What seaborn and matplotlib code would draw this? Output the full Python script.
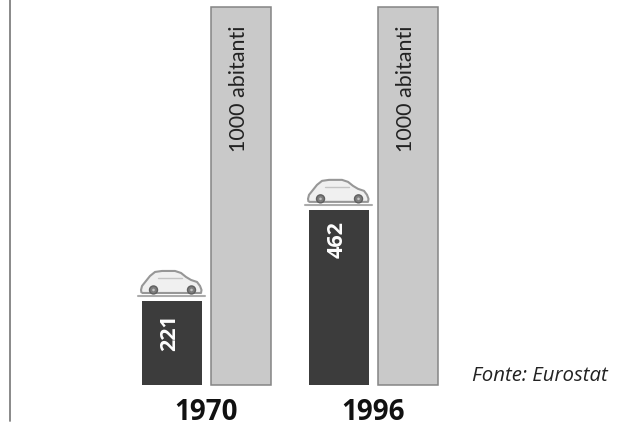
import numpy as np
import pandas as pd
import seaborn as sns
import matplotlib
matplotlib.use("Agg")
import matplotlib.pyplot as plt
from matplotlib.lines import Line2D
from matplotlib.patches import Circle, PathPatch
from matplotlib.path import Path
from matplotlib.transforms import IdentityTransform, ScaledTranslation

years = ["1970", "1996"]
series = ["auto", "abitanti"]
cars = [221, 462]
inhabitants = [1000, 1000]
bar_label_text = "1000 abitanti"
source = "Fonte: Eurostat"

df = pd.DataFrame({
    "anno": years * 2,
    "serie": [series[0]] * 2 + [series[1]] * 2,
    "valore": cars + inhabitants,
})

W, H = 619, 426
sns.set_theme(style="white")
plt.rcParams["font.family"] = ["Open Sans", "DejaVu Sans"]

fig = plt.figure(figsize=(W / 100, H / 100), dpi=100, facecolor="white")
ax = fig.add_axes([123 / W, (H - 384.5) / H, 334 / W, 378 / H])

sns.barplot(data=df, x="anno", y="valore", hue="serie", hue_order=series,
            palette={"auto": "#3c3c3c", "abitanti": "#c9c9c9"},
            width=0.826, gap=0.116, saturation=1, legend=False, ax=ax)
ax.set_xlim(-0.5, 1.5)
ax.set_ylim(0, 1000)
ax.set_xlabel("")
ax.set_ylabel("")
ax.set_yticks([])
sns.despine(ax=ax, left=True, bottom=True)
ax.patch.set_alpha(0)
ax.tick_params(axis="x", length=0, pad=10)
for t in ax.get_xticklabels():
    t.set_fontsize(20)
    t.set_fontweight("bold")
    t.set_color("#111111")

dark = ax.containers[0]
light = ax.containers[1]
for b in dark:
    b.set_linewidth(0)
for b in light:
    b.set_edgecolor("#858585")
    b.set_linewidth(1.1)
    b.set_clip_on(False)

# Car icon outline, in pixels relative to the top-centre of a dark bar
body = [(-30.5, 8), (-31, 11), (-30, 15), (-26, 20), (-22, 25), (-17, 29), (-10, 30),
        (3, 30), (9, 28), (14, 24), (19, 21), (25, 19), (28, 15), (29.5, 11),
        (29, 8), (-30.5, 8)]
wheels = [-18.5, 19.5]
label_dx = {221: -2.5, 462: -1.5}
label_dy = {221: -13, 462: -11}
for bar, v in zip(dark, cars):
    cx = bar.get_x() + bar.get_width() / 2
    tr = IdentityTransform() + ScaledTranslation(cx, v, ax.transData)
    ax.add_patch(PathPatch(Path(body), facecolor="#f0f0f0", edgecolor="#979797",
                           linewidth=1.5, joinstyle="round", transform=tr, clip_on=False))
    ax.add_line(Line2D([-34.5, 33], [5, 5], color="#ababab", linewidth=1.5,
                       transform=tr, clip_on=False))
    ax.add_line(Line2D([-14, 10], [23, 23], color="#c4c4c4", linewidth=1,
                       transform=tr, clip_on=False))
    for wx in wheels:
        ax.add_patch(Circle((wx, 11), 4, facecolor="#7d7d7d", edgecolor="#5f5f5f",
                            linewidth=1, transform=tr, clip_on=False, zorder=4))
        ax.add_patch(Circle((wx, 11), 1.3, facecolor="#c4c4c4", edgecolor="none",
                            transform=tr, clip_on=False, zorder=5))
    ax.annotate(str(v), (cx, v), xytext=(label_dx[v], label_dy[v]),
                textcoords="offset pixels", rotation=90, ha="center", va="top",
                color="white", fontsize=15.5, fontweight="bold")

for bar in light:
    cx = bar.get_x() + bar.get_width() / 2
    ax.annotate(bar_label_text, (cx, bar.get_height()), xytext=(-2, -19),
                textcoords="offset pixels", rotation=90, ha="center", va="top",
                color="#222222", fontsize=15.5, fontweight="normal", family="Lato")

fig.add_artist(Line2D([10 / W, 10 / W], [(H - 421) / H, 1], color="#808080", linewidth=1.3))
fig.text(472 / W, (H - 376) / H, source, fontsize=14.7, style="italic",
         color="#222222", ha="left", va="center")

fig.savefig("out.png", dpi=100, facecolor="white")
